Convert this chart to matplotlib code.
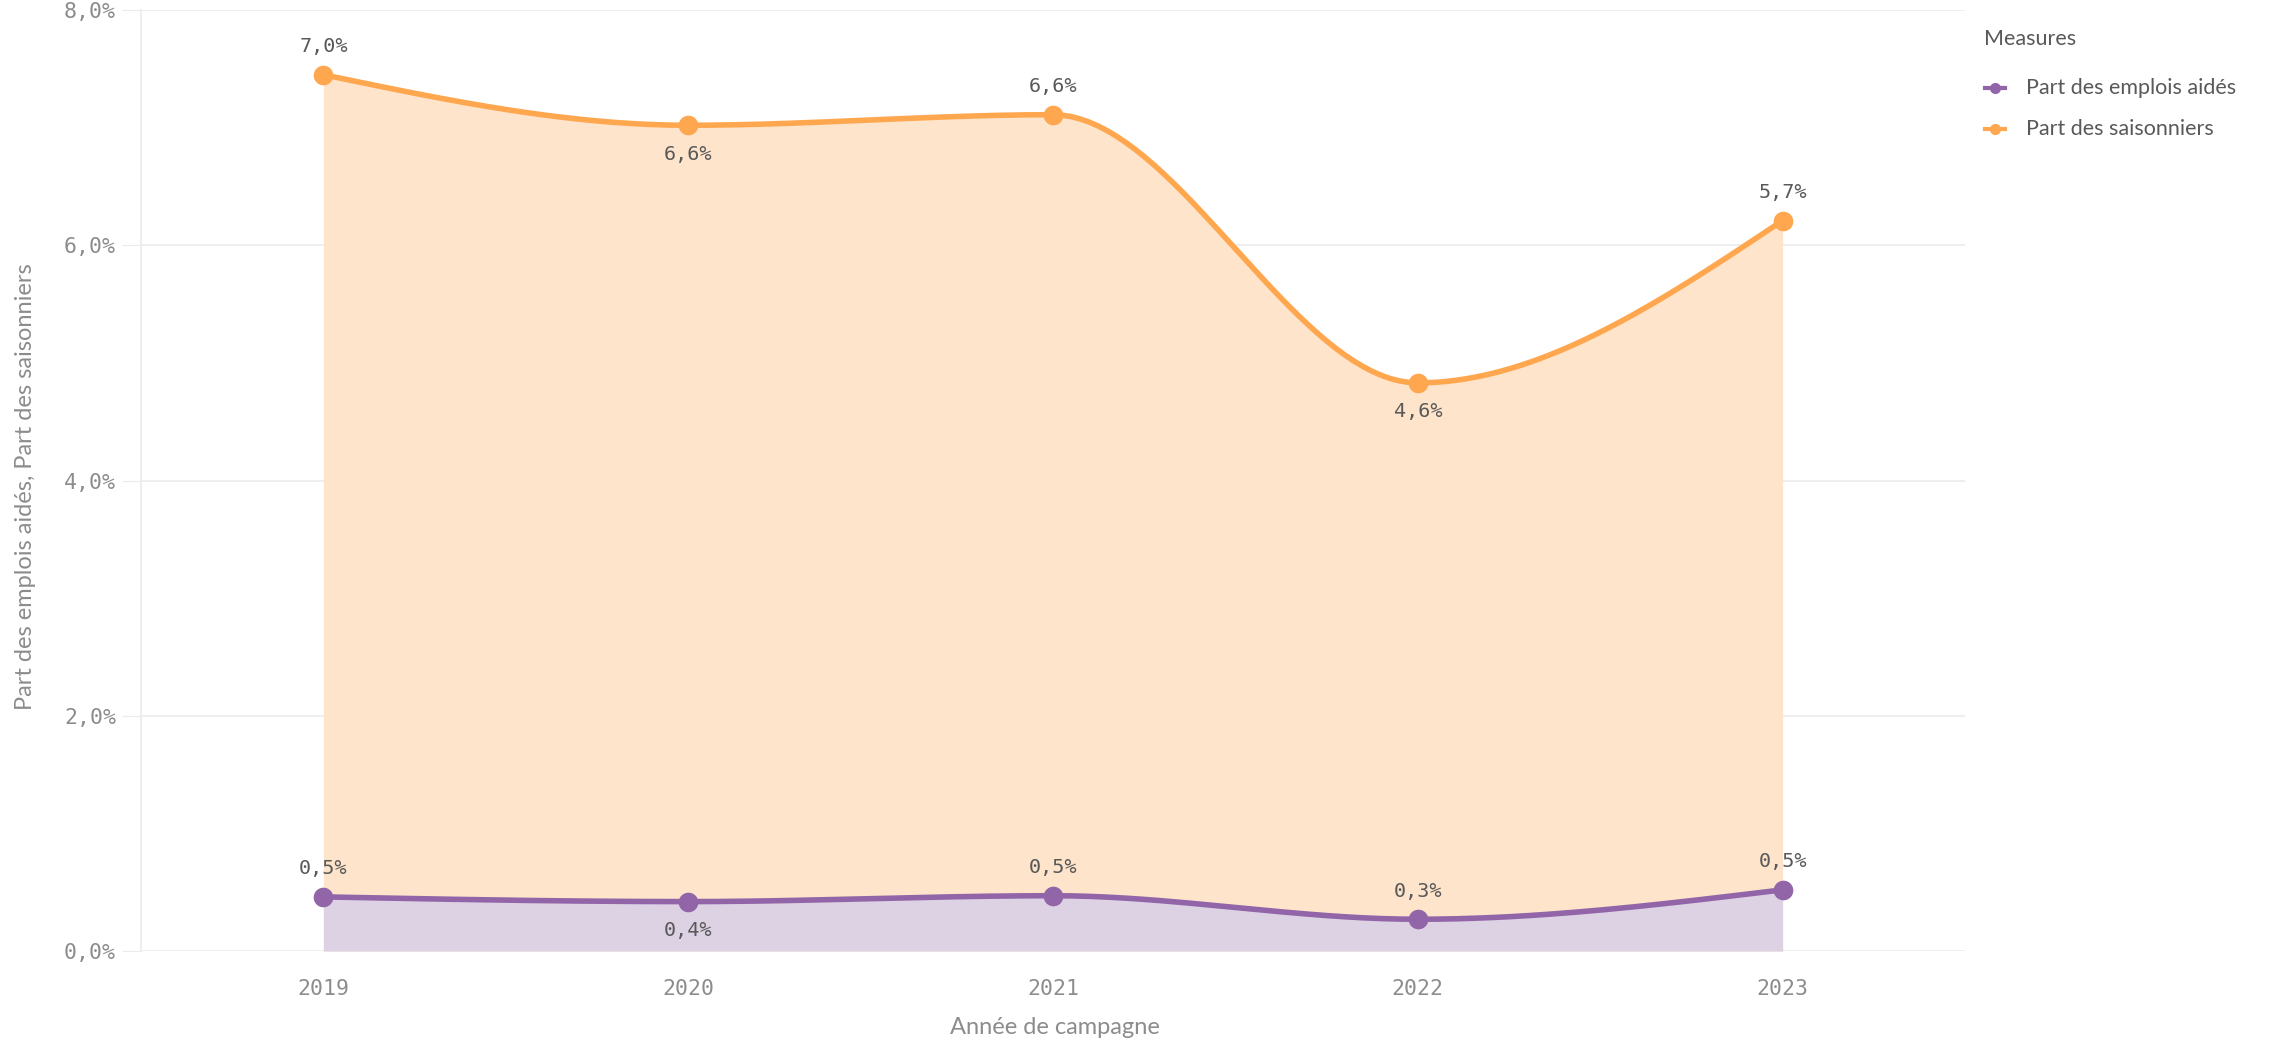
import numpy as np
import matplotlib
matplotlib.use("Agg")
import matplotlib.pyplot as plt
from matplotlib.lines import Line2D

years = ["2019", "2020", "2021", "2022", "2023"]
emplois_aides = [0.46, 0.42, 0.47, 0.27, 0.52]
saisonniers = [6.99, 6.60, 6.64, 4.56, 5.69]
yticks = [0, 2, 4, 6, 8]
orange_label_pos = ["above", "below", "above", "below", "above"]
purple_label_pos = ["above", "below", "above", "above", "above"]

C_OR = "#FFA74F"
C_OR_FILL = "#FEE4CB"
C_PU = "#9165A8"
C_PU_FILL = "#DDD1E4"
C_TXT = "#595959"
C_TICK = "#8C8C8C"
C_GRID = "#EBEBEB"


def monotone(x, y, n=40):
    x = np.asarray(x, float); y = np.asarray(y, float)
    h = np.diff(x); s = np.diff(y) / h
    t = np.zeros_like(y)
    for i in range(1, len(y) - 1):
        h0, h1, s0, s1 = h[i - 1], h[i], s[i - 1], s[i]
        p = (s0 * h1 + s1 * h0) / (h0 + h1)
        t[i] = (np.sign(s0) + np.sign(s1)) * min(abs(s0), abs(s1), 0.5 * abs(p))
    t[0] = (3 * s[0] - t[1]) / 2
    t[-1] = (3 * s[-1] - t[-2]) / 2
    xs, ys = [], []
    for i in range(len(h)):
        u = np.linspace(0, 1, n, endpoint=(i == len(h) - 1))
        h00 = 2 * u**3 - 3 * u**2 + 1
        h10 = u**3 - 2 * u**2 + u
        h01 = -2 * u**3 + 3 * u**2
        h11 = u**3 - u**2
        xs.append(x[i] + u * h[i])
        ys.append(h00 * y[i] + h10 * h[i] * t[i] + h01 * y[i + 1] + h11 * h[i] * t[i + 1])
    return np.concatenate(xs), np.concatenate(ys)


fig = plt.figure(figsize=(22.74, 10.43), dpi=100)
ax = fig.add_axes([141 / 2274, 1 - 951 / 1043, (1965 - 141) / 2274, (951 - 10) / 1043])

x = np.arange(len(years))
a = np.array(emplois_aides)
top = a + np.array(saisonniers)

xa, ya = monotone(x, a)
xt, yt = monotone(x, top)

ax.fill_between(xt, 0, yt, color=C_OR_FILL, lw=0, zorder=1)
ax.fill_between(xa, 0, ya, color=C_PU_FILL, lw=0, zorder=2)
ax.plot(xt, yt, color=C_OR, lw=4, zorder=3, solid_capstyle="round")
ax.plot(xa, ya, color=C_PU, lw=4, zorder=3, solid_capstyle="round")
ax.scatter(x, top, s=200, color=C_OR, zorder=4, lw=0)
ax.scatter(x, a, s=200, color=C_PU, zorder=4, lw=0)


def fmt(v):
    return f"{v:.1f}".replace(".", ",") + "%"

LBL = 14.5
for i in range(len(years)):
    off = 28 if orange_label_pos[i] == "above" else -29
    ax.annotate(fmt(saisonniers[i]), (x[i], top[i]), xytext=(0, off), textcoords="offset pixels",
                ha="center", va="center", fontsize=LBL, color=C_TXT, family="DejaVu Sans Mono", zorder=5)
    off = 28 if purple_label_pos[i] == "above" else -29
    ax.annotate(fmt(emplois_aides[i]), (x[i], a[i]), xytext=(0, off), textcoords="offset pixels",
                ha="center", va="center", fontsize=LBL, color=C_TXT, family="DejaVu Sans Mono", zorder=5)

ax.set_xlim(-0.5, len(years) - 0.5)
ax.set_ylim(0, 8)
ax.set_yticks(yticks)
ax.set_yticklabels([f"{v:.1f}".replace(".", ",") + "%" for v in yticks],
                   family="DejaVu Sans Mono", fontsize=15.5, color=C_TICK)
ax.set_xticks(x)
ax.set_xticklabels(years, family="DejaVu Sans Mono", fontsize=15.5, color=C_TICK)
ax.tick_params(axis="y", length=14, color=C_GRID, pad=4)
ax.tick_params(axis="x", length=0, pad=20)
ax.grid(axis="y", color=C_GRID, lw=1.2, zorder=0)
ax.set_axisbelow(True)
for sp in ["top", "right", "bottom"]:
    ax.spines[sp].set_visible(False)
ax.spines["left"].set_color(C_GRID)
ax.spines["left"].set_linewidth(1.2)

fig.text(1055 / 2274, 1 - 1028 / 1043, "Année de campagne", ha="center", va="center",
         fontsize=17, color=C_TICK, family="Lato")
fig.text(26 / 2274, 1 - 487 / 1043, "Part des emplois aidés, Part des saisonniers", ha="center",
         va="center", rotation=90, fontsize=17, color=C_TICK, family="Lato")

fig.text(1984 / 2274, 1 - 39 / 1043, "Measures", ha="left", va="center", fontsize=15.5,
         color=C_TXT, family="Lato")
for yy, lab, c in [(88, "Part des emplois aidés", C_PU), (129, "Part des saisonniers", C_OR)]:
    fig.add_artist(Line2D([1985 / 2274, 2005 / 2274], [1 - yy / 1043] * 2, color=c, lw=3))
    fig.add_artist(Line2D([1995 / 2274], [1 - yy / 1043], color=c, marker="o", ms=7, lw=0))
    fig.text(2026 / 2274, 1 - yy / 1043, lab, ha="left", va="center", fontsize=15.5,
             color=C_TXT, family="Lato")

fig.savefig("out.png", dpi=100, facecolor="white")
